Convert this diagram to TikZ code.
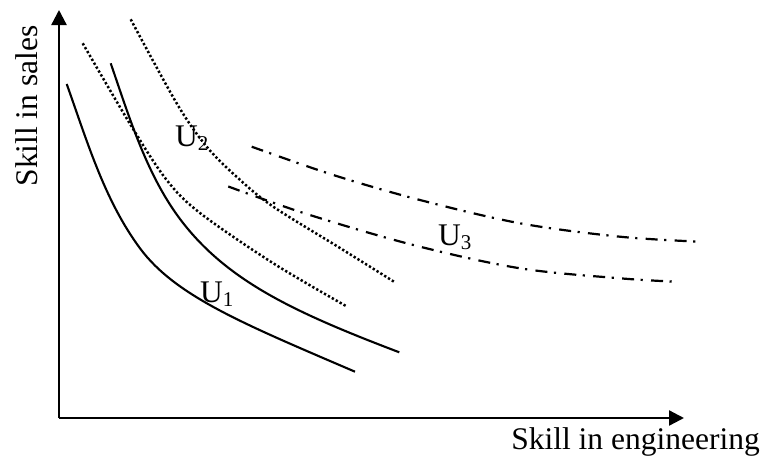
\documentclass[tikz,border=0pt]{standalone}
\usepackage{fontspec}
\setmainfont{Liberation Serif}
\usetikzlibrary{arrows.meta}
\newcommand{\Ulab}[1]{U\raisebox{-4pt}{\fontsize{21}{21}\selectfont #1}}
\begin{document}
\begin{tikzpicture}[x=1pt,y=-1pt,
  axis/.style={line width=2.3pt,-{Triangle[length=15pt,width=15pt]}},
  solidcurve/.style={line width=2.1pt},
  dotcurve/.style={line width=2.5pt,dash pattern=on 2.3pt off 2.2pt},
  dashdotcurve/.style={line width=2.2pt,dash pattern=on 12pt off 6.5pt on 2.2pt off 8.3pt},
  lab/.style={font=\fontsize{31.5}{36}\selectfont,inner sep=0pt}]
\useasboundingbox (0,0) rectangle (766,456);
\coordinate (O) at (59,418);
\coordinate (Ytop) at (59,10);
\coordinate (Xend) at (684,418);
\draw[axis] (O) -- (Ytop);
\draw[axis] (O) -- (Xend);
\node[lab,rotate=90,anchor=base] (ylab) at (37,106) {Skill in sales};
\node[lab,anchor=base] (xlab) at (635.5,449) {Skill in engineering};
% solid curves
\draw[solidcurve] (66.7,84) .. controls (86.9,140.5) and (104.3,200.1) .. (140,248.3)
  .. controls (175.7,296.5) and (244.7,324.3) .. (355,371.7);
\draw[solidcurve] (110.7,63.3) .. controls (129.6,118.1) and (147.4,177.7) .. (183.3,223.3)
  .. controls (229.7,282.3) and (296.5,313.2) .. (399.3,352.3);
% dotted curves
\draw[dotcurve] plot[smooth,tension=0.55] coordinates {(82.7,43.3) (131.7,126.7) (166.7,180) (200,213) (273.3,263.3) (346,306)};
\draw[dotcurve] plot[smooth,tension=0.55] coordinates {(130.7,19.3) (176.7,103.3) (206.7,146.7) (238.3,178.3) (273.3,206.7) (340,248) (394,281.7)};
% dash-dot curves
\draw[dashdotcurve] plot[smooth,tension=0.55] coordinates {(251.7,146.7) (333.3,175) (420,200) (520,223.3) (620,236.7) (700,241.7)};
\draw[dashdotcurve] plot[smooth,tension=0.55] coordinates {(228.3,186.5) (306.7,214) (413.3,245) (520,268.3) (620,278.3) (676,281.7)};
% labels
\node[lab,anchor=base west] (u1) at (200,302) {\Ulab{1}};
\node[lab,anchor=base west] (u2) at (175,146.7) {\Ulab{2}};
\node[lab,anchor=base west] (u3) at (438,245.5) {\Ulab{3}};
\end{tikzpicture}
\end{document}
